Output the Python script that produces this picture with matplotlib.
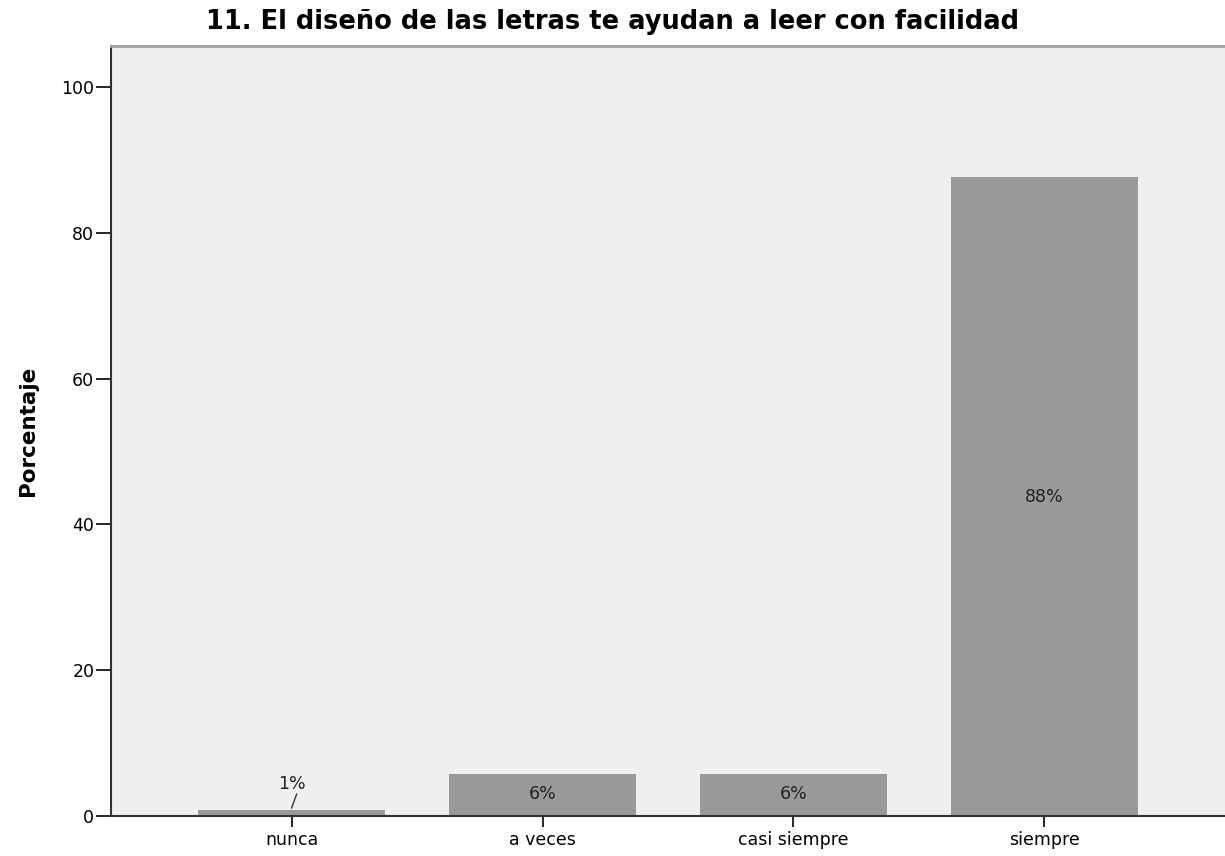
import matplotlib.pyplot as plt

categorias = ['nunca', 'a veces', 'casi siempre', 'siempre']
porcentajes = [0.8, 5.8, 5.8, 87.6]
etiquetas = ['1%', '6%', '6%', '88%']
yticks = [0, 20, 40, 60, 80, 100]

plt.rcParams['font.family'] = ['DejaVu Sans']

fig = plt.figure(figsize=(12.25, 8.56), dpi=100)
ax = fig.add_axes([0.0906, 0.0467, 0.9094, 0.8995])
ax.set_facecolor('#efefef')

x = list(range(len(categorias)))
ax.bar(x, porcentajes, width=0.745, color='#999999', edgecolor='none')

# etiquetas de valor (la pequeña va fuera con una línea guía)
for xi, v, lab in zip(x, porcentajes, etiquetas):
    if v < 3:
        ax.plot([xi, xi + 0.02], [v + 0.3, v + 2.2], color='#333333', lw=1)
        ax.text(xi, v + 2.4, lab, ha='center', va='bottom', fontsize=12.5, color='#222222')
    elif v < 20:
        ax.text(xi, v / 2 + 0.1, lab, ha='center', va='center', fontsize=12.5, color='#222222')
    else:
        ax.text(xi, v / 2, lab, ha='center', va='center', fontsize=12.5, color='#222222')

ax.set_xlim(-0.72, 3.72)
ax.set_ylim(0, 105.6)
ax.set_yticks(yticks)
ax.set_xticks(x)
ax.set_xticklabels(categorias, fontsize=12.5)
ax.tick_params(axis='y', labelsize=12.5, length=11, width=1.2, direction='out', pad=1)
ax.tick_params(axis='x', length=8, width=1.2, direction='out', pad=3)

ax.spines['left'].set_color('#333333')
ax.spines['left'].set_linewidth(1.5)
ax.spines['bottom'].set_color('#333333')
ax.spines['bottom'].set_linewidth(1.5)
ax.spines['top'].set_color('#a0a0a0')
ax.spines['top'].set_linewidth(2)
ax.spines['right'].set_visible(False)

ax.set_ylabel('Porcentaje', fontsize=15.5, fontweight='bold', labelpad=17)
fig.text(0.5, 0.974, '11. El diseño de las letras te ayudan a leer con facilidad',
         ha='center', va='center', fontsize=18.5, fontweight='bold')

fig.savefig('out.png', dpi=100)
